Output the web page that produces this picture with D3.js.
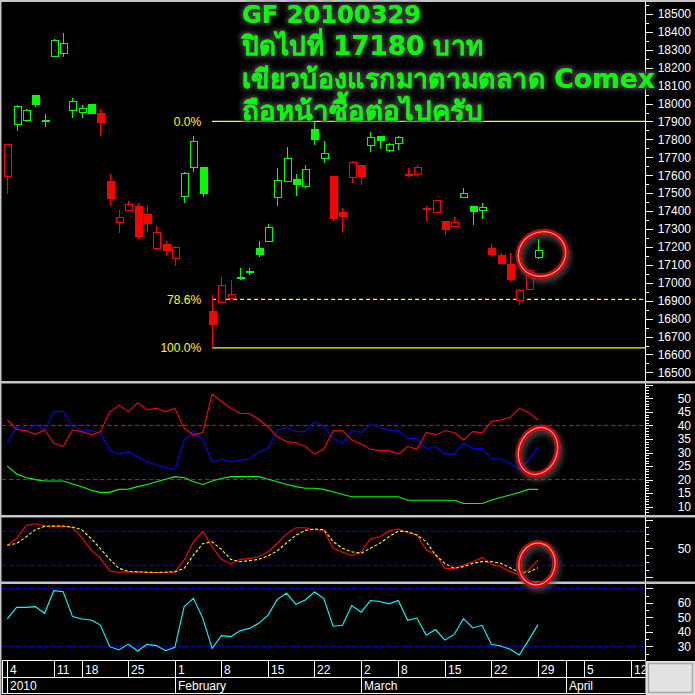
<!DOCTYPE html>
<html><head><meta charset="utf-8">
<script src="https://cdn.jsdelivr.net/npm/d3@7/dist/d3.min.js"></script>
<style>html,body{margin:0;padding:0;background:#000;overflow:hidden}</style>
</head><body><svg id="c" width="695" height="695"></svg>
<script>
// ---------------- DATA ----------------
const titleLines = ["GF 20100329", "ปิดไปที่ 17180 บาท", "เขียวบ้องแรกมาตามตลาด Comex", "ถือหน้าซื้อต่อไปครับ"];
const open  = [17591,17881,17903,18048,17903,18260,18282,17959,17948,17998,17948,17568,17334,17401,17429,17384,17189,17217,17133,17479,17641,17646,16843,16889,16910,17033,17066,17195,17230,17475,17564,17579,17535,17858,17693,17596,17395,17587,17658,17765,17819,17737,17776,17603,17603,17414,17391,17345,17312,17475,17429,17403,17195,17156,17105,16899,16962,17140];
const high  = [17769,17992,17970,18048,17942,18360,18394,18031,17992,17998,17970,17607,17407,17457,17446,17429,17317,17234,17206,17619,17819,17646,16932,17033,17016,17085,17083,17234,17328,17641,17758,17607,17658,17899,17791,17596,17418,17680,17658,17842,17819,17780,17819,17641,17658,17429,17457,17345,17367,17529,17429,17446,17217,17167,17167,16966,17072,17245];
const low   = [17496,17847,17897,17981,17870,18260,18260,17920,17920,17942,17819,17431,17278,17401,17245,17284,17183,17156,17094,17447,17619,17481,16637,16888,16910,17016,17044,17144,17228,17429,17564,17485,17529,17769,17669,17347,17284,17559,17546,17732,17749,17732,17743,17592,17591,17347,17391,17269,17312,17475,17320,17356,17144,17107,17005,16877,16962,17133];
const close = [17769,17981,17959,17992,17903,18349,18333,18009,17970,17942,17892,17468,17367,17434,17256,17328,17278,17178,17195,17607,17791,17496,16767,16983,16932,17022,17055,17156,17306,17568,17691,17546,17630,17797,17719,17358,17367,17669,17591,17808,17793,17769,17808,17603,17641,17414,17457,17297,17334,17496,17395,17418,17156,17107,17016,16955,17066,17180];
const tone  = ["r","g","g","g","g","g","g","g","g","g","r","r","r","r","r","r","r","r","r","g","g","g","r","r","r","g","g","g","g","g","g","g","g","g","g","r","r","r","r","g","g","g","g","r","r","r","r","r","r","g","g","g","r","r","r","r","r","g"];

const fibHigh = 17900, fibLow = 16637, fibStart = 22;
const fibLevels = [0, 0.786, 1];
const fibLabels = ["0.0%", "78.6%", "100.0%"];

const diMinus = [42,38.5,38,36.7,38.3,33.4,32.2,38.3,37.7,36.5,37.7,45,47.5,45,48.4,45.7,46.3,45,46.3,38.9,36.5,37.4,51.6,48.8,46.3,44.4,44.4,42.2,39.5,35.8,34,33.6,32.2,29.4,31.3,38,38,34.6,33.1,31.2,30.7,30.7,29.4,32.2,31.2,37.4,36.5,38,37.4,34.6,37.7,37.3,41.4,42,43,46.3,44.7,42];
const diPlus  = [33.6,39.5,37.9,40.4,38.3,45.1,45.1,39.5,38.3,38,37.1,30.9,29.4,30.3,28.4,26.6,25.4,24.5,23.5,34.6,38,34.6,26.6,27.5,26.6,27.2,27.5,30.3,31.5,38.3,39.2,37.7,37.7,41.4,39.5,35.2,33.4,38,37.4,40.5,39.2,38.3,38,35.2,35.2,31.3,32.2,29.4,29.4,33.4,31.5,31.5,27.6,27.6,26,23.8,27.2,32.1];
const adx     = [25,22.1,20.8,20,19.5,19.5,19.5,18.4,17.4,16.1,15.3,15.3,16.4,16.5,17.4,18.2,19.2,20.1,21.1,20.7,19.2,18.2,19.5,20.4,21.1,21.1,21.1,21.1,20.1,19.2,18.2,17.4,16.8,16.8,16.4,15.5,14.5,13.7,13.7,13.7,13.7,13.7,13.7,12.4,12.4,12.4,12.4,12.4,12.4,11.2,11.2,11.2,12.4,13.4,14.3,15.3,16.4,16.4];
const stochK  = [55.5,67.2,90.5,93.4,89.9,88.7,88.7,86.4,68.9,46.8,32.2,10.1,7.8,8.4,8.4,7.8,7.2,7.8,8.4,29.3,61.4,80,52.6,30.5,22.3,30.5,31.7,35.2,43.9,58.5,75.9,86.4,86.4,82.9,81.7,50,42.9,37,44,66.4,70.5,81,84,78,73.5,47,39.4,14.6,14.6,20.5,26.4,33.5,21.7,17.6,8.8,2.9,11.7,29.4];
const stochD  = [55.5,58.4,70,82.9,88.7,89.3,89.3,87.6,82.9,67.2,49.7,30.5,14.8,9,8.4,7.8,7.2,7.8,8.4,14.8,38,58.5,61.4,48,30.5,26.4,28.2,30.5,36.4,45.6,59.6,73,81.7,84,82.9,61.7,50,44,41,50,58.8,70.5,80.5,79.4,73.5,61.7,38.2,23.5,14.6,17.6,23.5,26.4,26.4,23.5,15.8,7.6,7.6,15.8];
const rsi     = [49,56.9,56.9,57.4,52.8,68.4,67.7,50.5,48.9,48.2,44.7,29.8,27.5,31.6,26.8,31.4,30.5,27,29.3,57.4,63.1,49.3,28.6,37.4,36.7,40.8,42.4,45.9,51.6,62.4,66.6,59,62,67.5,62.9,43.9,44.5,58.2,53.6,61.6,60.9,59.3,61.6,48,49.5,37.7,41.6,34.3,38.2,49.1,42.7,44.5,31.4,30.2,28,24.1,34.3,45];

const dmiLevels = [40, 20];
const stochLevels = [80, 20];
const rsiLevels = [70, 30];

const dayTickIndex = [0,5,8,13,18,23,28,33,38,42,47,52,57,62,67];
const dayTickLabel = ["4","11","18","25","1","8","15","22","2","8","15","22","29","5","12"];
const monthTickIndex = [0,18,38,60];
const monthTickLabel = ["2010","February","March","April"];

const priceTicks = d3.range(16500, 18501, 100);
const dmiTicks = [10,15,20,25,30,35,40,45,50];
const stochTicks = [50];
const rsiTicks = [30,40,50,60];

// ---------------- LAYOUT ----------------
const W = 695, H = 695;
const plotL = 2, axisX = 645.5;
const P = [{t:2,b:381},{t:383.5,b:515},{t:517.5,b:581.5},{t:584,b:660}];
const svg = d3.select('#c');
const defs = svg.append('defs');
svg.append('rect').attr('width',W).attr('height',H).attr('fill','#000');

const x = d3.scaleLinear().domain([0,67]).range([7.3,631]);
const yP = d3.scaleLinear().domain([16452,18561]).range([381,3]);
const yA = d3.scaleLinear().domain([6.94,55.65]).range([515,383]);
const yS = d3.scaleLinear().domain([-9.5,105.3]).range([582,517]);
const yR = d3.scaleLinear().domain([20.6,73]).range([660,584]);

P.forEach((p,k)=>{
  defs.append('clipPath').attr('id','clip'+k).append('rect')
    .attr('x',plotL).attr('y',p.t).attr('width',axisX-plotL).attr('height',p.b-p.t);
});
const shadow = defs.append('filter').attr('id','tsh').attr('x','-10%').attr('y','-30%').attr('width','120%').attr('height','160%');
shadow.append('feMorphology').attr('in','SourceAlpha').attr('operator','dilate').attr('radius',1.5).attr('result','d');
shadow.append('feGaussianBlur').attr('in','d').attr('stdDeviation',2).attr('result','b');
shadow.append('feFlood').attr('flood-color','#3a3a3a').attr('result','f');
shadow.append('feComposite').attr('in','f').attr('in2','b').attr('operator','in').attr('result','s');
const m = shadow.append('feMerge'); m.append('feMergeNode').attr('in','s'); m.append('feMergeNode').attr('in','SourceGraphic');
const glow = defs.append('filter').attr('id','glow').attr('x','-50%').attr('y','-50%').attr('width','200%').attr('height','200%');
glow.append('feGaussianBlur').attr('in','SourceAlpha').attr('stdDeviation',3).attr('result','b');
glow.append('feOffset').attr('in','b').attr('dx',2).attr('dy',3).attr('result','o');
glow.append('feFlood').attr('flood-color','#555').attr('result','f');
glow.append('feComposite').attr('in','f').attr('in2','o').attr('operator','in').attr('result','s');
const m2 = glow.append('feMerge'); m2.append('feMergeNode').attr('in','s'); m2.append('feMergeNode').attr('in','SourceGraphic');

const GREEN = '#00ff00', RED = '#ff0000', YEL = '#ffff00', BLUE = '#0000ff', CYAN = '#00ffff';
const col = t => t === 'g' ? GREEN : RED;

// ---------------- PRICE PANEL ----------------
const gp = svg.append('g').attr('clip-path','url(#clip0)');
fibLevels.forEach((f,k)=>{
  const v = fibHigh - f*(fibHigh-fibLow);
  gp.append('line').attr('x1',x(fibStart)).attr('x2',axisX).attr('y1',yP(v)).attr('y2',yP(v))
    .attr('stroke',YEL).attr('stroke-width',1.2).attr('stroke-dasharray', k===1 ? '4,3' : null);
  gp.append('text').attr('x',x(fibStart)-11).attr('y',yP(v)).attr('dy','0.36em').attr('text-anchor','end')
    .attr('fill',YEL).attr('font-family','Liberation Sans, Arial, sans-serif').attr('font-size',12).text(fibLabels[k]);
});
const cg = gp.append('g').attr('shape-rendering','crispEdges');
open.forEach((o,i)=>{
  const c = close[i], cx = Math.round(x(i)) + 0.5, color = col(tone[i]);
  cg.append('line').attr('x1',cx).attr('x2',cx).attr('y1',yP(high[i])).attr('y2',yP(low[i])).attr('stroke',color).attr('stroke-width',1);
  if (c > o) {
    cg.append('rect').attr('x',cx-3.5).attr('y',yP(c)).attr('width',7).attr('height',Math.max(1,yP(o)-yP(c)))
      .attr('fill','#000').attr('stroke',color).attr('stroke-width',1);
  } else if (c < o) {
    cg.append('rect').attr('x',cx-4).attr('y',yP(o)).attr('width',8).attr('height',Math.max(2,yP(c)-yP(o))).attr('fill',color);
  } else {
    cg.append('rect').attr('x',cx-4).attr('y',yP(c)-1).attr('width',8).attr('height',2).attr('fill',color);
  }
});

// ---------------- INDICATORS ----------------
function hline(g, y, color){
  g.append('line').attr('x1',plotL).attr('x2',axisX).attr('y1',y).attr('y2',y)
   .attr('stroke',color).attr('stroke-width',1).attr('stroke-dasharray','4,3');
}
function series(g, data, y, color, dash){
  g.append('path').datum(data).attr('fill','none').attr('stroke',color).attr('stroke-width',1.1)
   .attr('stroke-dasharray',dash||null)
   .attr('d', d3.line().x((d,i)=>x(i)).y(d=>y(d)));
}
const g1 = svg.append('g').attr('clip-path','url(#clip1)');
dmiLevels.forEach(v=>hline(g1, yA(v), RED));
series(g1, adx, yA, GREEN);
series(g1, diPlus, yA, BLUE);
series(g1, diMinus, yA, RED);

const g2 = svg.append('g').attr('clip-path','url(#clip2)');
stochLevels.forEach(v=>hline(g2, yS(v), BLUE));
series(g2, stochK, yS, RED);
series(g2, stochD, yS, YEL, '3,2');

const g3 = svg.append('g').attr('clip-path','url(#clip3)');
rsiLevels.forEach(v=>hline(g3, yR(v), BLUE));
series(g3, rsi, yR, CYAN);

// ---------------- RIGHT AXES ----------------
const ax = svg.append('g').attr('shape-rendering','crispEdges');
ax.append('line').attr('x1',axisX).attr('x2',axisX).attr('y1',2).attr('y2',660).attr('stroke','#fff');
const labFont = 'Liberation Sans, Arial, sans-serif';
function ticks(vals, y, len, top, bot){
  vals.forEach(v=>{ const yy = Math.round(y(v))+0.5; if (yy<top||yy>bot) return;
    ax.append('line').attr('x1',axisX).attr('x2',axisX+len).attr('y1',yy).attr('y2',yy).attr('stroke','#fff'); });
}
function labels(vals, y){
  vals.forEach(v=> svg.append('text').attr('x',691).attr('y',y(v)).attr('dy','0.36em').attr('text-anchor','end')
    .attr('fill','#fff').attr('font-family',labFont).attr('font-size',12).text(v));
}
ticks(d3.range(16450,18600,100), yP, 3, P[0].t, P[0].b);
ticks(d3.range(16500,18600,100), yP, 7, P[0].t, P[0].b);
labels(priceTicks, yP);
ticks(d3.range(7,56,1), yA, 3, P[1].t+1, P[1].b-1);
ticks(d3.range(10,56,5), yA, 7, P[1].t+1, P[1].b-1);
labels(dmiTicks, yA);
ticks(d3.range(-12.5,106,12.5), yS, 3, P[2].t+1, P[2].b-1);
ticks([0,50,100], yS, 7, P[2].t+1, P[2].b-1);
labels(stochTicks, yS);
ticks(d3.range(25,73,5), yR, 3, P[3].t+1, P[3].b-1);
ticks(d3.range(30,73,10), yR, 7, P[3].t+1, P[3].b-1);
labels(rsiTicks, yR);

// ---------------- DATE AXIS ----------------
defs.append('clipPath').attr('id','clipX').append('rect').attr('x',2).attr('y',660).attr('width',axisX-2).attr('height',34);
const gx = svg.append('g').attr('clip-path','url(#clipX)').attr('shape-rendering','crispEdges');
[660.5,677.5,693.5].forEach(yy=> gx.append('line').attr('x1',2).attr('x2',axisX).attr('y1',yy).attr('y2',yy).attr('stroke','#fff'));
gx.append('line').attr('x1',2.5).attr('x2',2.5).attr('y1',660).attr('y2',694).attr('stroke','#fff');
gx.append('line').attr('x1',axisX-0.5).attr('x2',axisX-0.5).attr('y1',660).attr('y2',694).attr('stroke','#fff');
dayTickIndex.forEach((t,k)=>{
  const xx = Math.round(x(t))+0.5;
  gx.append('line').attr('x1',xx).attr('x2',xx).attr('y1',660).attr('y2',677).attr('stroke','#fff');
  gx.append('text').attr('x',xx+2.5).attr('y',674).attr('fill','#fff').attr('font-family',labFont).attr('font-size',12).text(dayTickLabel[k]);
});
monthTickIndex.forEach((t,k)=>{
  const xx = Math.round(x(t))+0.5;
  gx.append('line').attr('x1',xx).attr('x2',xx).attr('y1',660).attr('y2',694).attr('stroke','#fff');
  gx.append('text').attr('x',xx+2.5).attr('y',690).attr('fill','#fff').attr('font-family',labFont).attr('font-size',12).text(monthTickLabel[k]);
});
svg.append('rect').attr('x',646).attr('y',661).attr('width',49).attr('height',34).attr('fill','#e2e2e2');
svg.append('rect').attr('x',648.5).attr('y',663.5).attr('width',44).attr('height',29).attr('fill','none').attr('stroke','#a9a9a9').attr('stroke-width',1.5);

// ---------------- FRAME / SEPARATORS ----------------
const GRAY = '#c6c6c6';
svg.append('rect').attr('x',0).attr('y',0).attr('width',W).attr('height',2).attr('fill',GRAY);
svg.append('rect').attr('x',0).attr('y',0).attr('width',1.5).attr('height',H).attr('fill',GRAY);
[381,515,581.5].forEach(yy=> svg.append('rect').attr('x',0).attr('y',yy).attr('width',W).attr('height',2.5).attr('fill',GRAY));

// ---------------- TITLE ----------------
const titleSize = [24, 26, 26, 26];
const titleWidth = [179, 241, 413, 241];
const tg = svg.append('g').attr('filter','url(#tsh)');
titleLines.forEach((s,k)=>{
  tg.append('text').attr('x',242).attr('y',23 + k*32.4).attr('fill','#00ff00')
    .attr('font-family','DejaVu Sans, Tahoma, sans-serif').attr('font-weight','bold').attr('font-size',titleSize[k])
    .attr('textLength',titleWidth[k]).attr('lengthAdjust','spacingAndGlyphs').text(s);
});

// ---------------- RED MARKER RINGS ----------------
const rings = [
  {cx:542, cy:254, rx:24, ry:22, rot:-25},
  {cx:538, cy:451, rx:19, ry:24, rot:20},
  {cx:537, cy:564, rx:18, ry:21, rot:10}
];
const rg = svg.append('g').attr('filter','url(#glow)');
rings.forEach(r=>{
  const g = rg.append('g').attr('transform',`translate(${r.cx},${r.cy}) rotate(${r.rot})`);
  g.append('ellipse').attr('rx',r.rx).attr('ry',r.ry).attr('fill','none').attr('stroke','#d00000').attr('stroke-width',5.5);
  g.append('ellipse').attr('rx',r.rx).attr('ry',r.ry).attr('fill','none').attr('stroke','#ffb0b0').attr('stroke-width',1.2).attr('opacity',0.85);
});
</script></body></html>
